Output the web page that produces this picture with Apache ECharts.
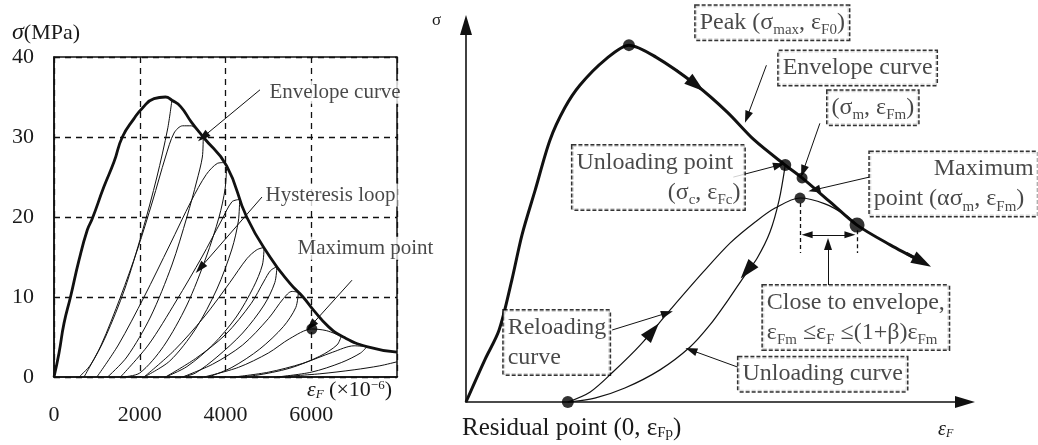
<!DOCTYPE html>
<html>
<head>
<meta charset="utf-8">
<script src="https://cdn.jsdelivr.net/npm/echarts@6/dist/echarts.min.js"></script>
<style>
  html, body { margin: 0; background: #fff; }
  #main { width: 1038px; height: 445px; }
</style>
</head>
<body>
<div id="main"></div>
<script>
// ---- left panel: measured stress-strain data (strain x1e-6, MPa) ----
var xTicks = [0, 2000, 4000, 6000, 8000];
var yTicks = [0, 10, 20, 30, 40];

var envelopeLeft = [[0,0],[117,3],[233,6.7],[389,10.1],[583,14.6],[778,18.4],[894,19.8],[1166,23.8],
  [1400,26.9],[1594,30],[1866,32.3],[2060,33.6],[2333,34.8],[2600,35],[2750,34.6],[2954,33.8],
  [3200,31.9],[3480,30],[4027,26.4],[4494,20],[5038,15],[5504,11.7],[5808,10],[6048,8.4],
  [6400,6.3],[6748,5.0],[7293,3.8],[8000,3.1]];

var unloadLeft = [
  [[2750,34.6],[2650,31],[2400,25],[2050,18],[1650,11],[1200,5],[850,1.5],[583,0]],
  [[3480,30],[3460,27.5],[3330,24.5],[3100,20],[2750,14],[2250,7.5],[1700,2.5],[1250,0]],
  [[4027,26.4],[3990,23.5],[3850,20],[3550,15],[3100,9],[2550,3.8],[2000,0.5],[1600,0]],
  [[4330,22.2],[4300,19.5],[4150,16],[3800,11],[3300,6],[2700,2],[2100,0]],
  [[4900,16.2],[4860,14],[4650,11.2],[4250,7.5],[3700,4],[3100,1.3],[2600,0]],
  [[5200,13.8],[5150,11.8],[4900,9],[4400,5.5],[3800,2.5],[3300,0.5],[3000,0]],
  [[5700,10.6],[5640,8.7],[5350,6.3],[4800,3.5],[4150,1.2],[3600,0]],
  [[6700,5.1],[6600,4],[6200,2.6],[5500,1.1],[4700,0.2],[4200,0]],
  [[7300,3.8],[7150,3],[6700,1.8],[6000,0.6],[5200,0]]
];
var reloadLeft = [
  [[700,0],[1100,4],[1550,10],[1950,16],[2300,22],[2600,27.5],[2800,30.5],[3000,31.4],[3200,31.4],[3350,30.8]],
  [[1000,0],[1500,4],[2100,10],[2700,16.5],[3200,22],[3550,25.3],[3810,26.7],[3950,26.8]],
  [[1550,0],[2200,4],[2850,9.5],[3450,15],[3900,19.5],[4150,21.9],[4330,22.2]],
  [[2100,0],[2800,3.3],[3500,7.5],[4100,11.8],[4500,14.8],[4730,15.9],[4900,16.2]],
  [[2600,0],[3300,2.3],[4000,5.3],[4600,9.2],[4900,12],[5050,13.3],[5200,13.8]],
  [[3000,0],[3700,1.6],[4400,4],[5000,7.3],[5350,9.8],[5550,10.7],[5700,10.6]],
  [[3500,0],[4300,1.2],[5000,3],[5500,4.8],[6014,6.0],[6350,5.8],[6700,5.1]],
  [[4200,0],[5000,0.6],[5800,1.7],[6500,3.1],[7000,3.9],[7300,3.8]],
  [[5200,0],[6200,0.4],[7000,0.9],[7600,1.4],[8000,1.9]]
];
var maxPointLeft = [6014, 6.0];

// ---- right panel: schematic (arbitrary units) ----
var envelopeRight = [[0,0],[3.7,10.9],[6.5,18.6],[9.0,31.5],[11.0,43.2],[13.6,54.8],[16.5,67.7],
  [19.4,76.0],[22.4,81.9],[27.3,88.4],[32.0,92.2],[37.3,89.1],[45.2,81.9],[51.3,74.9],[56.6,67.7],
  [62.7,61.2],[66.0,57.9],[71.5,51.7],[76.8,45.7],[83.3,40.6],[89.6,36.2]];
var unloadRight = [[62.7,61.2],[61.5,52.2],[59.7,43.9],[57.2,37.2],[54.8,32.8],[51.5,26.4],
  [47.9,19.9],[44.0,14.2],[38.1,8.3],[31.2,3.6],[25.3,1.0],[20.0,0]];
var reloadRight = [[20.0,0],[24.4,2.6],[28.9,7.8],[34.2,14.7],[40.1,23.8],[46.6,33.6],[51.9,41.1],
  [56.8,46.5],[60.7,50.1],[65.6,52.7],[70.5,51.2],[74.5,48.3],[76.8,45.7]];
var keyPoints = { peak: [32.0,92.2], unload: [62.7,61.2], sigm: [66.0,57.9], maxPt: [65.6,52.7],
  close: [76.8,45.7], residual: [20.0,0] };

var SERIF = "'Liberation Serif', 'Times New Roman', serif";
var INK = '#1a1a1a';

function curve(data, width, gi, sm) {
  return { type: 'line', data: data, xAxisIndex: gi, yAxisIndex: gi, smooth: sm || 0.3, symbol: 'none',
    silent: true, clip: false, lineStyle: { color: '#111', width: width }, z: 3 };
}
function arrows(list, gi, size, width, sym) {
  return { type: 'line', data: [], xAxisIndex: gi, yAxisIndex: gi, silent: true, z: 4,
    markLine: { silent: true, symbol: sym || ['none', 'triangle'], symbolSize: size, animation: false,
      label: { show: false }, lineStyle: { color: '#111', width: width, type: 'solid' },
      data: list.map(function (p) { return [{ coord: p[0] }, { coord: p[1] }]; }) } };
}

var sub = { fontSize: 15, fontFamily: SERIF, verticalAlign: 'bottom', color: INK };
var rich = {
  s: sub,
  l: { align: 'left', fontSize: 24, fontFamily: SERIF, color: INK },
  r: { align: 'right', fontSize: 24, fontFamily: SERIF, color: INK },
  ls: { align: 'left', fontSize: 15, fontFamily: SERIF, color: INK, verticalAlign: 'bottom' },
  rs: { align: 'right', fontSize: 15, fontFamily: SERIF, color: INK, verticalAlign: 'bottom' }
};

function box(pos, text, width) {
  var lab = { formatter: text };
  if (width) lab.width = width;
  return { value: pos, label: lab };
}

var series = [];
unloadLeft.forEach(function (c) { series.push(curve(c, 1, 0)); });
reloadLeft.forEach(function (c) { series.push(curve(c, 1, 0)); });
series.push(curve(envelopeLeft, 2.8, 0, 0.5));
series.push({ type: 'scatter', data: [maxPointLeft], xAxisIndex: 0, yAxisIndex: 0, symbolSize: 11,
  itemStyle: { color: '#000' }, z: 5, silent: true });
series.push(arrows([
  [[4805, 35.9], [3475, 30]],
  [[4851, 22.5], [3405, 13.6]],
  [[6950, 12.1], [5990, 6.4]]
], 0, [8, 13], 1));
series.push({ type: 'scatter', xAxisIndex: 0, yAxisIndex: 0, symbolSize: 1, clip: false, silent: true, z: 6,
  itemStyle: { color: 'rgba(0,0,0,0)' },
  label: { show: true, position: 'right', distance: 0, fontFamily: SERIF, fontSize: 21, color: INK,
    backgroundColor: '#fff', padding: [1, 2], formatter: function (p) { return p.data.t; } },
  data: [
    { value: [4968, 35.6], t: 'Envelope curve' },
    { value: [4875, 22.75], t: 'Hysteresis loop' },
    { value: [5621, 16.1], t: 'Maximum point' }
  ] });

// right panel
series.push(curve(unloadRight, 1.2, 1));
series.push(curve(reloadRight, 1.2, 1));
series.push(curve(envelopeRight, 3, 1));
series.push({ type: 'scatter', xAxisIndex: 1, yAxisIndex: 1, silent: true, z: 5, clip: false,
  itemStyle: { color: '#000' },
  data: [
    { value: keyPoints.peak, symbolSize: 12 },
    { value: keyPoints.unload, symbolSize: 12 },
    { value: keyPoints.sigm, symbolSize: 11 },
    { value: keyPoints.maxPt, symbolSize: 11 },
    { value: keyPoints.close, symbolSize: 15 },
    { value: keyPoints.residual, symbolSize: 12 }
  ] });
// arrowheads on the curves
series.push(arrows([
  [[41.5, 85.8], [45.2, 81.9]],
  [[35.0, 15.8], [36.6, 18.3]],
  [[56.4, 35.8], [55.2, 33.9]]
], 1, [13, 20], 1));
series.push(arrows([[[86.5, 38.4], [89.6, 36.2]]], 1, [13, 20], 3));
// pointers
series.push(arrows([
  [[45.0, 98.0], [33.2, 93.0]],
  [[59.0, 87.0], [55.2, 73.6]],
  [[52.5, 58.1], [61.5, 61.2]],
  [[69.5, 72.0], [66.2, 59.6]],
  [[79.2, 58.1], [68.4, 54.8]],
  [[71.1, 30.2], [71.1, 40.8]],
  [[28.7, 18.6], [39.5, 23.0]],
  [[53.4, 9.0], [44.2, 13.4]]
], 1, [8, 12], 1));
series.push(arrows([[[67.0, 43.2], [75.4, 43.2]]], 1, [7, 11], 1.2, ['triangle', 'triangle']));
series.push({ type: 'line', data: [], xAxisIndex: 1, yAxisIndex: 1, silent: true,
  markLine: { silent: true, symbol: 'none', animation: false, label: { show: false },
    lineStyle: { color: '#111', width: 1.3, type: [4, 3] },
    data: [[{ coord: [65.6, 51.4] }, { coord: [65.6, 38.5] }], [{ coord: [76.8, 44.4] }, { coord: [76.8, 38.5] }]] } });
// dashed boxes
series.push({ type: 'scatter', xAxisIndex: 1, yAxisIndex: 1, symbolSize: 1, clip: false, silent: true, z: 6,
  itemStyle: { color: 'rgba(0,0,0,0)' },
  label: { show: true, position: 'right', distance: 0, fontFamily: SERIF, fontSize: 24, color: INK,
    lineHeight: 30, backgroundColor: '#fff', borderColor: '#000', borderWidth: 1.5, borderType: [4, 2],
    padding: [2, 4, 2, 4], rich: rich },
  data: [
    box([45.0, 98.0], 'Peak (σ{s|max}, ε{s|F0})'),
    box([61.3, 86.3], 'Envelope curve'),
    box([70.9, 76.0], '(σ{s|m}, ε{s|Fm})'),
    box([20.8, 58.0], '{l|Unloading point}\n{r|(σ}{rs|c}{r|, ε}{rs|Fc}{r|)}', 164),
    box([79.2, 56.3], '{r|Maximum}\n{l|point (ασ}{ls|m}{l|, ε}{ls|Fm}{l|)}', 160),
    box([58.2, 21.8], 'Close to envelope,\nε{s|Fm} ≤ε{s|F} ≤(1+β)ε{s|Fm}'),
    box([7.3, 15.4], 'Reloading\ncurve', 98),
    box([53.4, 7.2], 'Unloading curve')
  ] });

var chart = echarts.init(document.getElementById('main'));
chart.setOption({
  animation: false,
  backgroundColor: '#fff',
  grid: [
    { left: 54, top: 57, width: 343, height: 320, show: true, borderColor: '#111', borderWidth: 1.5, backgroundColor: 'transparent' },
    { left: 466, top: 25, width: 499, height: 377 }
  ],
  xAxis: [
    { gridIndex: 0, type: 'value', min: xTicks[0], max: xTicks[xTicks.length - 1], interval: 2000,
      axisLine: { lineStyle: { color: '#111', width: 1.5 } }, axisTick: { show: false },
      splitLine: { show: true, lineStyle: { color: '#111', width: 1.3, type: [6, 5] } },
      axisLabel: { fontFamily: SERIF, fontSize: 22, color: INK, margin: 27,
        formatter: function (v) { return v === 8000 ? '' : String(v); } } },
    { gridIndex: 1, type: 'value', min: 0, max: 98, show: true,
      axisLine: { onZero: false, symbol: ['none', 'triangle'], symbolSize: [12, 20], lineStyle: { color: '#111', width: 1.6 } },
      axisTick: { show: false }, axisLabel: { show: false }, splitLine: { show: false } }
  ],
  yAxis: [
    { gridIndex: 0, type: 'value', min: yTicks[0], max: yTicks[yTicks.length - 1], interval: 10,
      axisLine: { show: true, lineStyle: { color: '#111', width: 1.5 } }, axisTick: { show: false },
      splitLine: { show: true, lineStyle: { color: '#111', width: 1.3, type: [6, 5] } },
      axisLabel: { fontFamily: SERIF, fontSize: 22, color: INK, margin: 20 } },
    { gridIndex: 1, type: 'value', min: 0, max: 97.4,
      axisLine: { show: true, onZero: false, symbol: ['none', 'triangle'], symbolSize: [12, 20], lineStyle: { color: '#111', width: 1.6 } },
      axisTick: { show: false }, axisLabel: { show: false }, splitLine: { show: false } }
  ],
  graphic: [
    { type: 'text', left: 12, top: 21, silent: true, style: { text: '{i|σ}(MPa)', fontFamily: SERIF, fontSize: 22, fill: INK,
      rich: { i: { fontStyle: 'italic', fontFamily: SERIF, fontSize: 24 } } } },
    { type: 'text', left: 307, top: 379, silent: true, style: { text: '{i|ε}{is|F} (×10{sup|−6})', fontFamily: SERIF, fontSize: 22, fill: INK,
      rich: { i: { fontStyle: 'italic', fontFamily: SERIF, fontSize: 22 },
        is: { fontStyle: 'italic', fontFamily: SERIF, fontSize: 13, verticalAlign: 'bottom' },
        sup: { fontFamily: SERIF, fontSize: 13, verticalAlign: 'top' } } } },
    { type: 'text', left: 432, top: 12, silent: true, style: { text: 'σ', fontFamily: SERIF, fontSize: 17, fill: INK } },
    { type: 'text', left: 938, top: 420, silent: true, style: { text: '{i|ε}{is|F}', fontFamily: SERIF, fontSize: 20, fill: INK,
      rich: { i: { fontStyle: 'italic', fontFamily: SERIF, fontSize: 20 },
        is: { fontStyle: 'italic', fontFamily: SERIF, fontSize: 12, verticalAlign: 'bottom' } } } },
    { type: 'text', left: 462, top: 416, silent: true, style: { text: 'Residual point (0, ε{s|Fp})', fontFamily: SERIF, fontSize: 25, fill: INK,
      rich: { s: { fontFamily: SERIF, fontSize: 15, verticalAlign: 'bottom' } } } }
  ],
  series: series
});
</script>
</body>
</html>
